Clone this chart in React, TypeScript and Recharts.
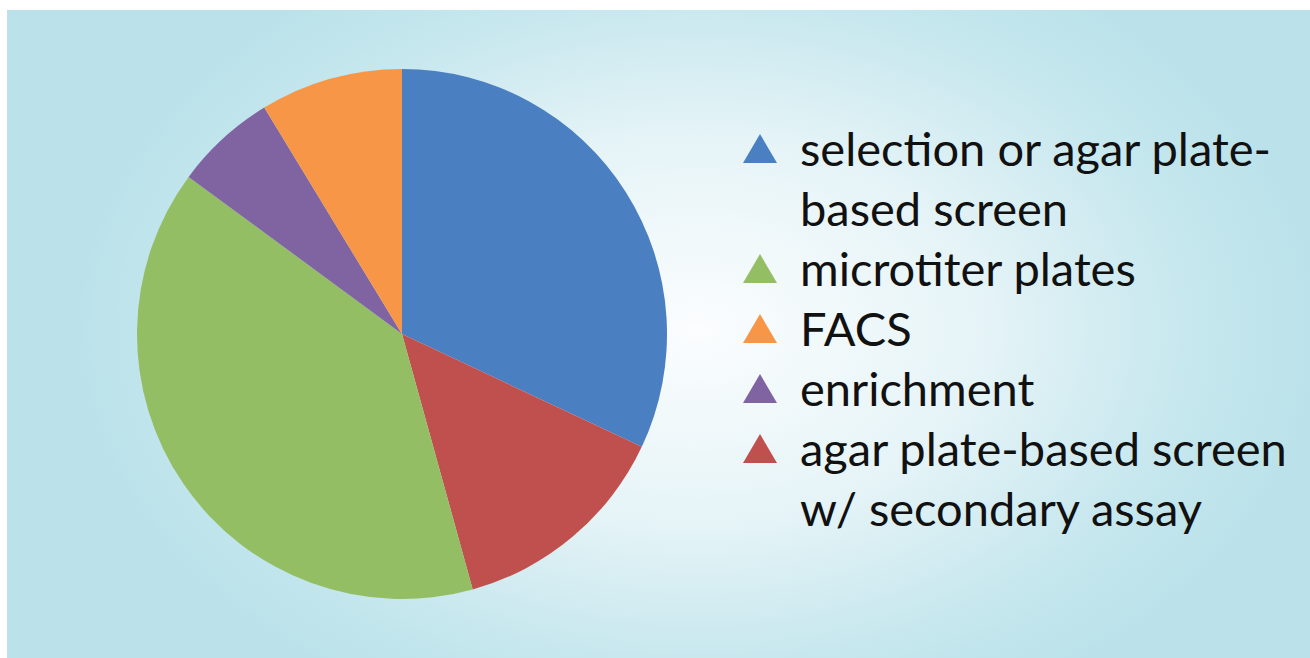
import React from "react";
import { PieChart, Pie, Cell, Legend } from "recharts";

// slices in drawing order (clockwise from 12 o'clock)
const categories = [
  "selection or agar plate-based screen",
  "agar plate-based screen w/ secondary assay",
  "microtiter plates",
  "enrichment",
  "FACS",
];
const shares = [32, 13.7, 39.4, 6.2, 8.7];
const colors = ["#4A7FC1", "#C0504D", "#93BE63", "#8064A2", "#F79646"];

// legend order and how the labels wrap
const legendOrder = [0, 2, 4, 3, 1];
const legendLines = [
  ["selection or agar plate-", "based screen"],
  ["agar plate-based screen", "w/ secondary assay"],
  ["microtiter plates"],
  ["enrichment"],
  ["FACS"],
];

const data = categories.map((name, i) => ({ name, value: shares[i] }));

function LegendBox() {
  return (
    <div style={{ fontFamily: "Lato, 'Open Sans', sans-serif", fontSize: 47, lineHeight: "60px", color: "#111" }}>
      {legendOrder.map((i) => (
        <div key={categories[i]} style={{ display: "flex", alignItems: "flex-start" }}>
          <svg width={34} height={29} style={{ marginTop: 16, marginRight: 23, flex: "none" }}>
            <polygon points="17,0 34,29 0,29" fill={colors[i]} />
          </svg>
          <div style={{ whiteSpace: "nowrap" }}>
            {legendLines[i].map((l) => (
              <div key={l}>{l}</div>
            ))}
          </div>
        </div>
      ))}
    </div>
  );
}

export default function App() {
  return (
    <div
      style={{
        position: "absolute",
        left: 7,
        top: 10,
        width: 1303,
        height: 648,
        background:
          "radial-gradient(ellipse 620px 420px at 690px 320px, #fbfdfe 0%, #e6f4f7 45%, #c6e7ee 80%, #bbe2ea 100%)",
      }}
    >
      <PieChart width={1303} height={648} margin={{ top: 0, right: 0, bottom: 0, left: 0 }}>
        <Pie
          data={data}
          dataKey="value"
          nameKey="name"
          cx={395}
          cy={324}
          outerRadius={265}
          startAngle={90}
          endAngle={-270}
          stroke="none"
          isAnimationActive={false}
        >
          {data.map((d, i) => (
            <Cell key={d.name} fill={colors[i]} />
          ))}
        </Pie>
        <Legend
          content={() => <LegendBox />}
          wrapperStyle={{ position: "absolute", left: 736, top: 108, width: 566 }}
        />
      </PieChart>
    </div>
  );
}
